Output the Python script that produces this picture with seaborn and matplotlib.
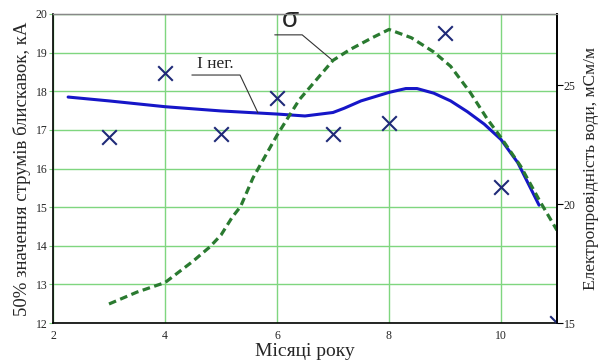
import matplotlib
matplotlib.use("Agg")
import matplotlib.pyplot as plt
import seaborn as sns
import pandas as pd

# ---- data ----
months_pts = [3, 4, 5, 6, 7, 8, 9, 10, 11]
current_pts = [16.82, 18.47, 16.9, 17.83, 16.9, 17.18, 19.5, 15.52, 12.0]

months_curve = [2.27, 3.0, 4.0, 5.0, 6.0, 6.5, 7.0, 7.2, 7.5, 8.0, 8.3, 8.5,
                8.8, 9.1, 9.4, 9.7, 10.0, 10.3, 10.68]
current_curve = [17.85, 17.75, 17.6, 17.49, 17.41, 17.36, 17.45, 17.56, 17.75,
                 17.97, 18.07, 18.07, 17.95, 17.75, 17.47, 17.15, 16.75, 16.15, 15.05]

months_sigma = [3.0, 3.5, 4.0, 4.5, 4.8, 5.0, 5.2, 5.35, 5.57, 6.0, 6.4, 7.0,
                7.3, 7.7, 8.0, 8.4, 8.8, 9.1, 9.45, 9.75, 10.0, 10.35, 10.7, 11.0]
sigma_vals = [15.8, 16.3, 16.7, 17.6, 18.2, 18.7, 19.45, 19.9, 21.1, 22.9, 24.4,
              26.05, 26.5, 27.0, 27.35, 27.0, 26.4, 25.8, 24.7, 23.6, 22.8, 21.6,
              20.1, 18.9]

x_ticks = [2, 4, 6, 8, 10]
left_ticks = [12, 13, 14, 15, 16, 17, 18, 19, 20]
right_ticks = [15, 20, 25]

xlabel = "Місяці року"
ylabel_left = "50% значення струмів блискавок, кА"
ylabel_right = "Електропровідність води, мСм/м"
label_I = "I нег."
label_sigma = "σ"

# ---- style ----
sns.set_style("white")
plt.rcParams["font.family"] = ["Liberation Serif", "DejaVu Serif"]

grid_c = "#7fd67f"
blue_c = "#1616c8"
green_c = "#2a7a30"
mark_c = "#1f2a78"

fig = plt.figure(figsize=(6.02, 3.62), dpi=100)
ax = fig.add_axes([53 / 602, 1 - 323 / 362, (557 - 53) / 602, (323 - 14) / 362])

df_pts = pd.DataFrame({"m": months_pts, "I": current_pts})
df_curve = pd.DataFrame({"m": months_curve, "I": current_curve})
df_sig = pd.DataFrame({"m": months_sigma, "s": sigma_vals})

sns.lineplot(data=df_curve, x="m", y="I", ax=ax, color=blue_c, linewidth=2.2,
             estimator=None, sort=False, zorder=3)
sns.scatterplot(data=df_pts, x="m", y="I", ax=ax, marker="x", s=110,
                color=mark_c, linewidth=1.5, zorder=4, clip_on=True)

ax.set_xlim(2, 11)
ax.set_ylim(12, 20)
ax.set_xticks(x_ticks)
ax.set_yticks(left_ticks)
ax.grid(True, color=grid_c, linewidth=1.0)
ax.set_axisbelow(True)
ax.tick_params(axis="x", length=0, labelsize=8.5, pad=5)
ax.tick_params(axis="y", length=3, color=grid_c, labelsize=8.5, pad=1)
ax.set_xlabel(xlabel, fontsize=14, labelpad=1)
ax.set_ylabel(ylabel_left, fontsize=13.5, labelpad=3)

for side in ["left", "bottom", "right"]:
    ax.spines[side].set_color("black")
    ax.spines[side].set_linewidth(1.2)
ax.spines["top"].set_color("#888888")
ax.spines["top"].set_linewidth(1.0)

ax2 = ax.twinx()
sns.lineplot(data=df_sig, x="m", y="s", ax=ax2, color=green_c, linewidth=2.3,
             estimator=None, sort=False)
ax2.lines[0].set_dashes((2.4, 1.4))
ax2.set_ylim(15, 28)
ax2.set_yticks(right_ticks)
ax2.tick_params(axis="y", length=4, color="black", labelsize=8.5, pad=1)
ax2.set_ylabel(ylabel_right, fontsize=12.5, labelpad=5)
ax2.spines["right"].set_color("black")
ax2.spines["right"].set_linewidth(1.2)
ax2.spines["top"].set_color("#888888")
ax2.spines["left"].set_visible(False)
ax2.spines["bottom"].set_visible(False)
ax2.set_xlim(2, 11)

# ---- annotations (leader lines) ----
ax.plot([4.48, 5.34, 5.66], [18.42, 18.42, 17.44], color="#333333", lw=0.8, zorder=5)
ax.text(4.90, 18.5, label_I, fontsize=12.5, ha="center", va="bottom", zorder=6)
ax.plot([5.96, 6.45, 7.0], [19.46, 19.46, 18.79], color="#333333", lw=0.8, zorder=5)
ax.text(6.24, 19.5, label_sigma, fontsize=20, ha="center", va="bottom",
        family=["Liberation Sans", "DejaVu Sans"], zorder=6)

fig.savefig("out.png", dpi=100)
